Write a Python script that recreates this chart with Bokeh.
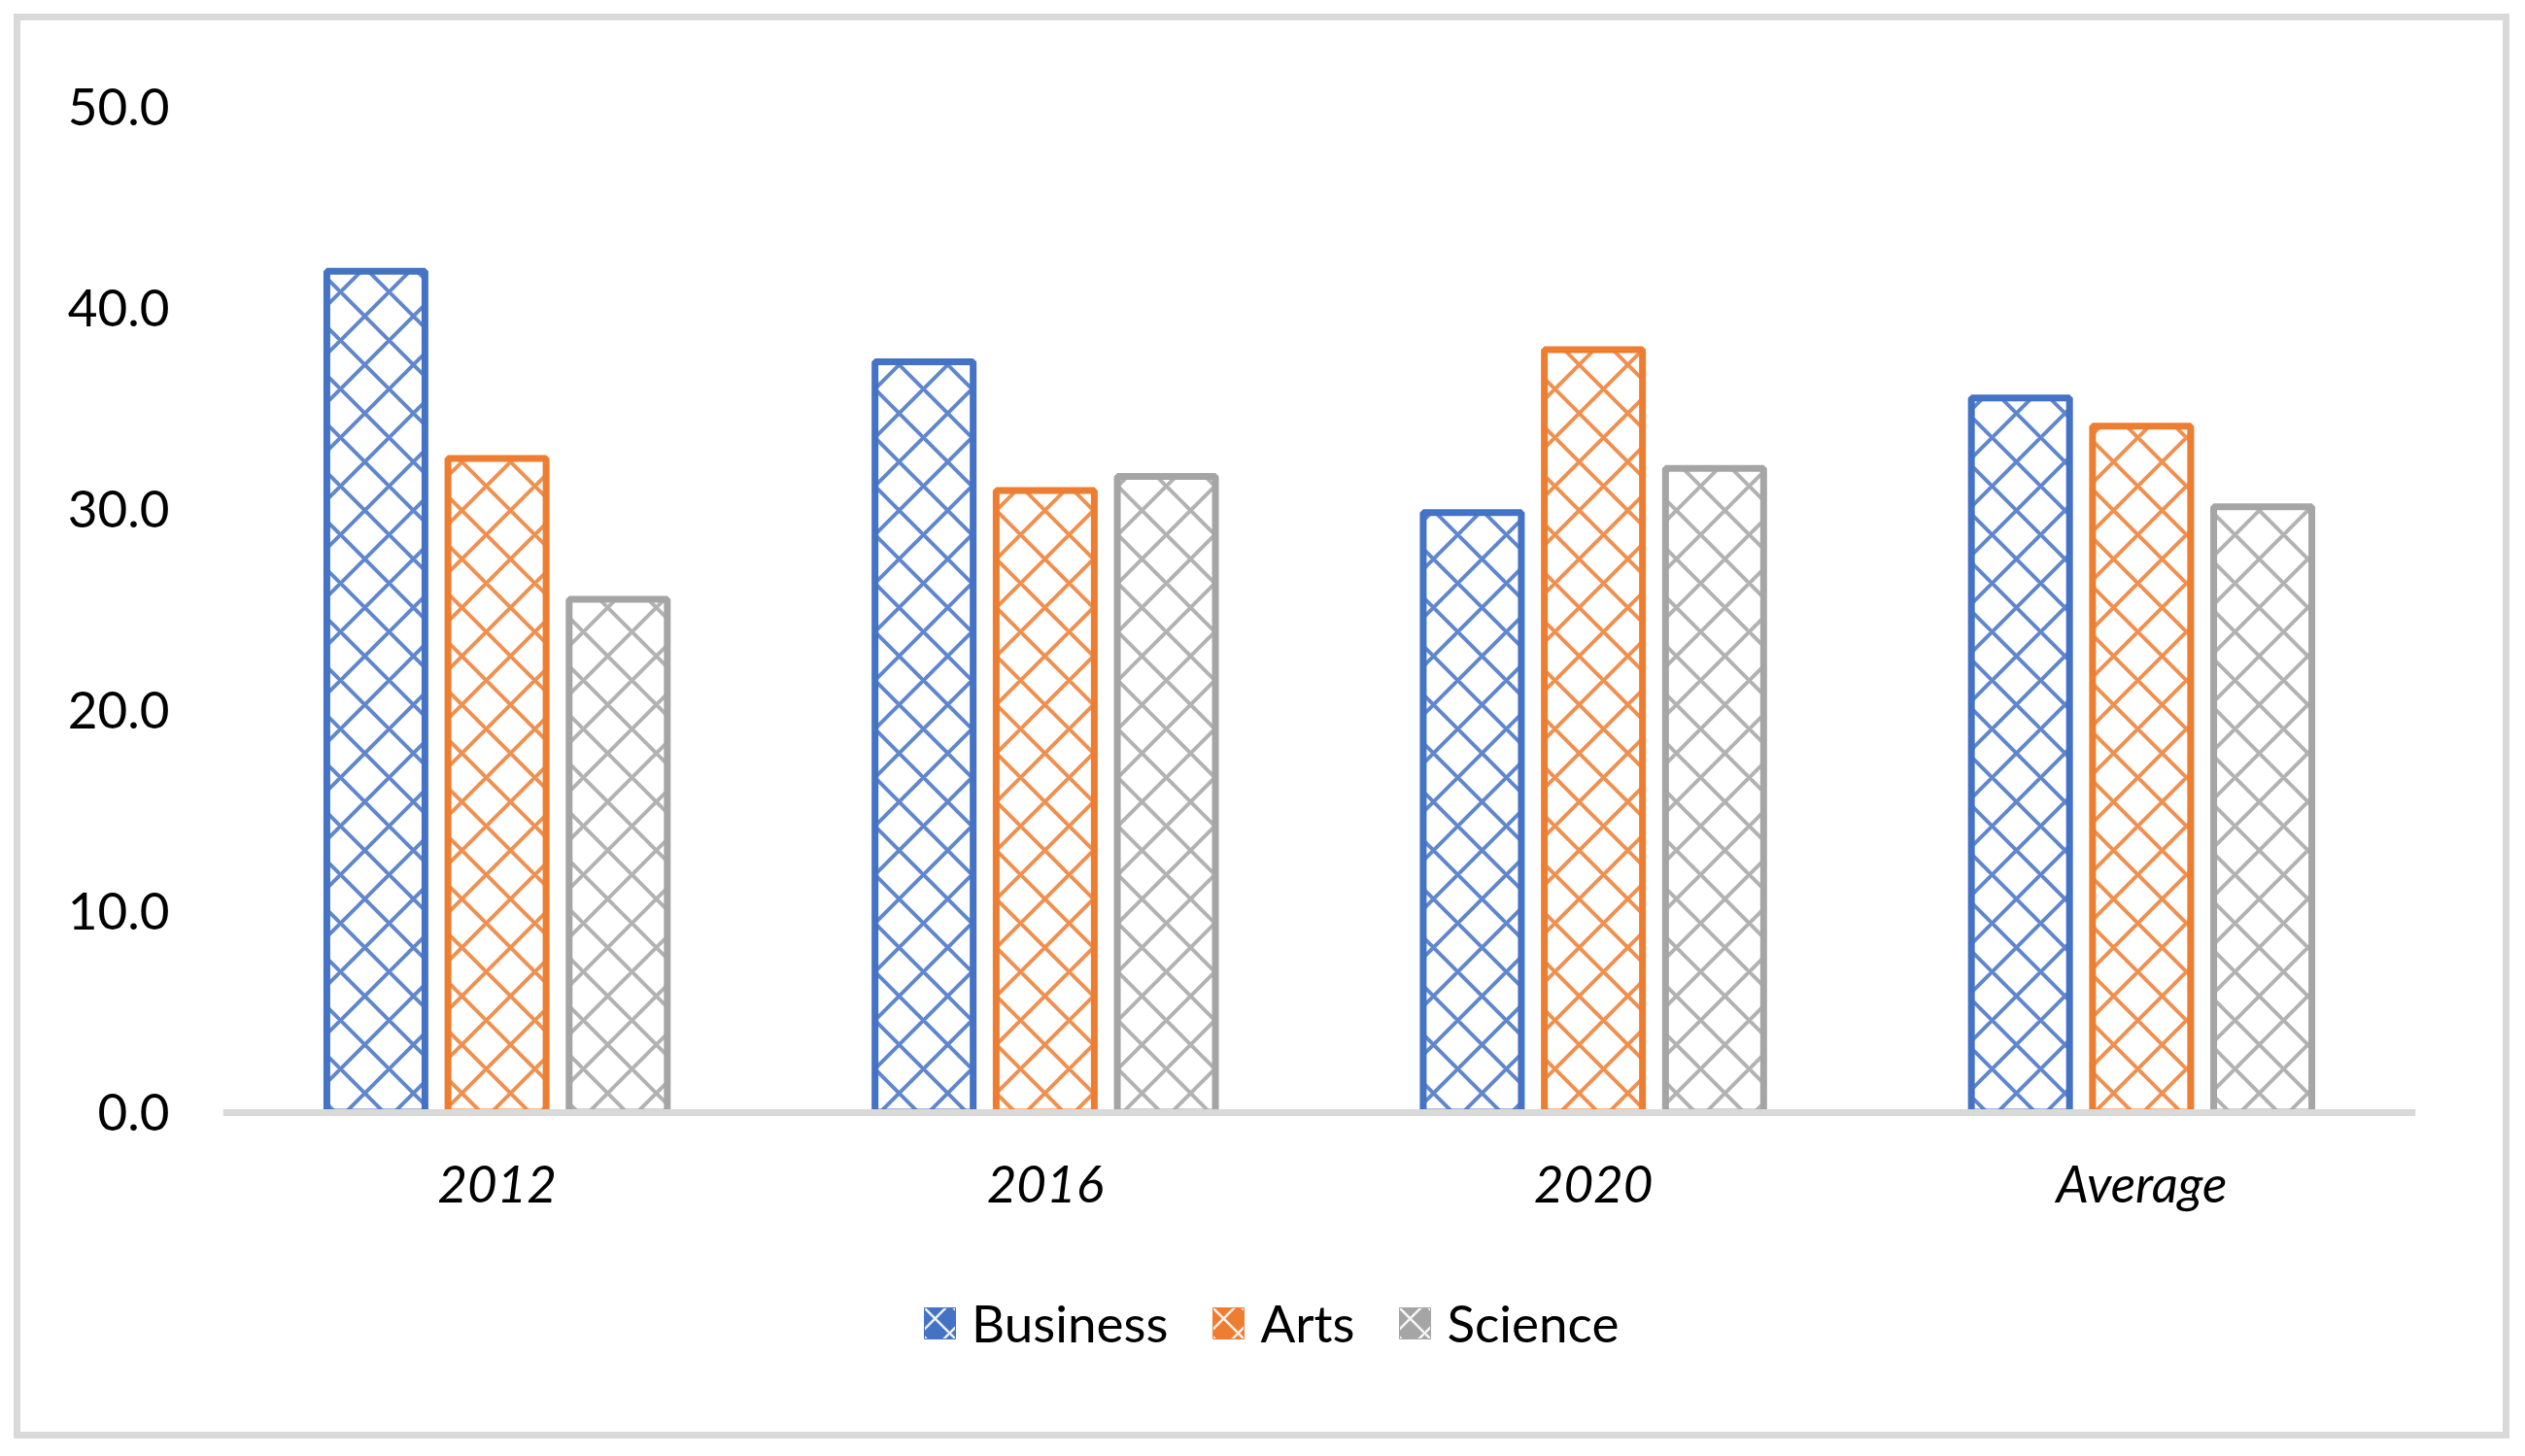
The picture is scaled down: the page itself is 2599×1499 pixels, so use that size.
from bokeh.plotting import figure
from bokeh.models import (ColumnDataSource, FactorRange, Range1d, FixedTicker,
                          NumeralTickFormatter, Legend, LegendItem)
from bokeh.transform import dodge
from bokeh.embed import file_html
from bokeh.resources import INLINE

categories = ["2012", "2016", "2020", "Average"]
series = ["Business", "Arts", "Science"]
business = [41.8, 37.3, 29.8, 35.5]
arts = [32.5, 30.9, 37.9, 34.1]
science = [25.5, 31.6, 32.0, 30.1]
colors = ["#4472C4", "#ED7D31", "#A5A5A5"]
y_ticks = [0, 10, 20, 30, 40, 50]

src = ColumnDataSource(dict(cat=categories, Business=business, Arts=arts, Science=science))

FONT = "Lato"
FS = "53px"

# layout in pixels (figure coords)
W, H = 2597, 1495
B_LEFT, B_RIGHT, B_TOP, B_BOTTOM = 229, 111, 109, 55
frame_h = H - B_TOP - B_BOTTOM
zero_px = 1035.5  # distance of the value 0 from the frame top
y_max = 50
y_min = -y_max * (frame_h - zero_px) / zero_px

p = figure(width=W, height=H, output_backend="svg", toolbar_location=None,
           x_range=FactorRange(factors=categories, range_padding=0),
           y_range=Range1d(y_min, y_max),
           min_border_left=B_LEFT, min_border_right=B_RIGHT,
           min_border_top=B_TOP, min_border_bottom=B_BOTTOM)
p.outline_line_color = None
p.xgrid.grid_line_color = None
p.ygrid.grid_line_color = None
p.background_fill_color = "white"
p.border_fill_color = None
p.styles = {"box-shadow": "inset 0 0 0 14px #FFFFFF, inset 0 0 0 21px #D9D9D9",
            "background-color": "#FFFFFF"}

offsets = [-0.221, 0.0, 0.221]
legend_items = []
for name, off, col in zip(series, offsets, colors):
    p.vbar(x=dodge("cat", off, range=p.x_range), top=name, bottom=0, width=0.179, source=src,
           fill_color="white", line_color=col, line_width=7,
           hatch_pattern="diagonal_cross", hatch_color=col, hatch_scale=50, hatch_weight=4,
           hatch_alpha=0.85)
    # hidden twin used only to draw the solid legend swatch
    proxy = p.vbar(x=dodge("cat", off, range=p.x_range), top=name, bottom=0, width=0.179,
                   source=src, fill_color=col, line_color=col, line_width=1,
                   hatch_pattern="diagonal_cross", hatch_color="white", hatch_scale=30,
                   hatch_weight=2.5, hatch_alpha=0.9, visible=False)
    legend_items.append(LegendItem(label=name, renderers=[proxy]))

# y axis
ya = p.yaxis[0]
ya.ticker = FixedTicker(ticks=y_ticks)
ya.formatter = NumeralTickFormatter(format="0.0")
ya.axis_line_color = None
ya.major_tick_line_color = None
ya.minor_tick_line_color = None
ya.major_tick_out = 0
ya.major_label_standoff = 55
ya.major_label_text_font = FONT
ya.major_label_text_font_size = FS
ya.major_label_text_color = "#000000"

# x axis, pinned at value 0
xa = p.xaxis[0]
xa.fixed_location = 0
xa.axis_line_color = "#D9D9D9"
xa.axis_line_width = 7
xa.major_tick_line_color = None
xa.minor_tick_line_color = None
xa.major_tick_out = 0
xa.major_label_standoff = 41
xa.major_label_text_font = FONT
xa.major_label_text_font_style = "italic"
xa.major_label_text_font_size = FS
xa.major_label_text_color = "#000000"

legend = Legend(items=legend_items, orientation="horizontal", location=(718, 47),
                glyph_width=40, glyph_height=40, label_standoff=13, spacing=42,
                padding=0, margin=0, border_line_color=None, background_fill_alpha=0,
                inactive_fill_alpha=0,
                label_text_font=FONT, label_text_font_size=FS, label_text_color="#000000")
p.add_layout(legend, "center")

open("out.html", "w").write(file_html(p, INLINE))
